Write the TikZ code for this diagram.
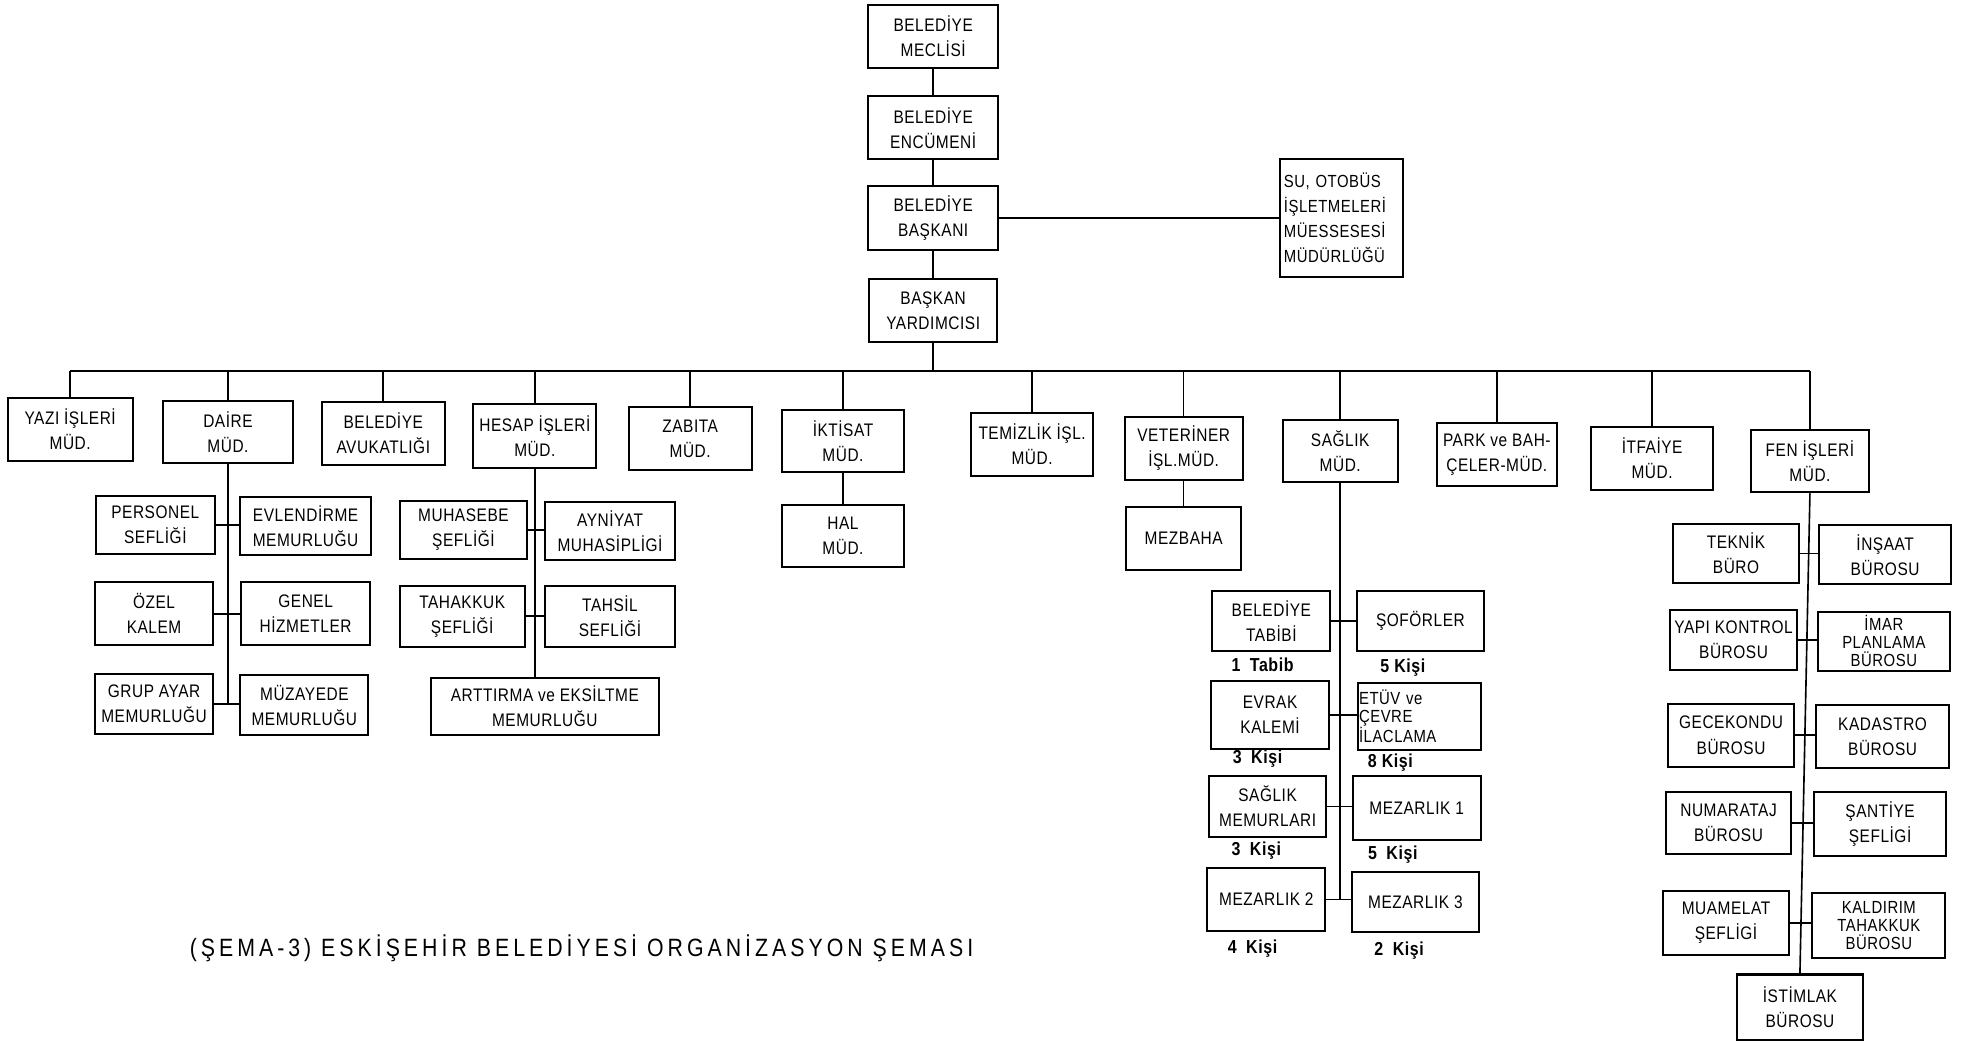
\documentclass[tikz,border=0pt]{standalone}
\usepackage{fontspec}
\setmainfont{Liberation Sans}[FakeStretch=0.85,LetterSpace=3.0]
\usepackage{tikz}

\begin{document}
\begin{tikzpicture}[x=1pt,y=-1pt,
  kutu/.style={draw,line width=1.6pt,align=center,inner sep=1pt,
    minimum width=98pt,minimum height=50pt,
    font=\fontsize{14.5}{20}\selectfont},
  ucsatir/.style={font=\fontsize{14}{14.5}\selectfont},
  kisi/.style={font=\bfseries\fontsize{15}{17}\selectfont},
  hat/.style={line width=1.3pt}]
\useasboundingbox (0,0) rectangle (1568,835);

% ust kademe
\node[kutu,minimum width=104pt] (meclis) at (745,29) {BELEDİYE\\MECLİSİ};
\node[kutu,minimum width=104pt] (encumen) at (745,102) {BELEDİYE\\ENCÜMENİ};
\node[kutu,minimum width=104pt,minimum height=51pt] (baskan) at (745,174) {BELEDİYE\\BAŞKANI};
\node[kutu,minimum width=102pt] (yardimci) at (745,248) {BAŞKAN\\YARDIMCISI};
\node[kutu,text width=92pt,align=left,minimum height=94pt,font=\fontsize{14}{20}\selectfont] (su) at (1071,174) {SU, OTOBÜS\\İŞLETMELERİ\\MÜESSESESİ\\MÜDÜRLÜĞÜ};
\draw[hat] (meclis.south) -- (encumen.north);
\draw[hat] (encumen.south) -- (baskan.north);
\draw[hat] (baskan.south) -- (yardimci.north);
\draw[hat] (baskan.east) -- (su.west);

% mudurlukler
\node[kutu,minimum width=100pt] (yazi) at (56,343) {YAZI İŞLERİ\\MÜD.};
\node[kutu,minimum width=104pt,minimum height=49pt] (daire) at (182,345) {DAİRE\\MÜD.};
\node[kutu] (avukat) at (306,346) {BELEDİYE\\AVUKATLIĞI};
\node[kutu,minimum height=51pt] (hesap) at (427,348) {HESAP İŞLERİ\\MÜD.};
\node[kutu] (zabita) at (551,350) {ZABITA\\MÜD.};
\node[kutu] (iktisat) at (673,352) {İKTİSAT\\MÜD.};
\node[kutu] (temizlik) at (824,355) {TEMİZLİK İŞL.\\MÜD.};
\node[kutu,minimum width=94pt] (veteriner) at (945,358) {VETERİNER\\İŞL.MÜD.};
\node[kutu,minimum width=92pt] (saglik) at (1070,360) {SAĞLIK\\MÜD.};
\node[kutu,minimum width=96pt] (park) at (1195,363) {PARK ve BAH-\\ÇELER-MÜD.};
\node[kutu,minimum width=97pt] (itfaiye) at (1319,366) {İTFAİYE\\MÜD.};
\node[kutu,minimum width=94pt] (fen) at (1445,368) {FEN İŞLERİ\\MÜD.};

\coordinate (bus) at (0,296);
\draw[hat] (yardimci.south) -- (yardimci.south |- bus);
\draw[hat] (yazi.north |- bus) -- (fen.north |- bus);
\foreach \b in {yazi,daire,avukat,hesap,zabita,iktisat,temizlik,veteriner,saglik,park,itfaiye,fen}
  \draw[hat] (\b.north) -- (\b.north |- bus);

% daire mud.
\node[kutu,minimum width=95pt,minimum height=46pt] (personel) at (124,419) {PERSONEL\\SEFLİĞİ};
\node[kutu,minimum width=104pt,minimum height=46pt] (evlendirme) at (244,420) {EVLENDİRME\\MEMURLUĞU};
\node[kutu,minimum width=94pt] (ozel) at (123,490) {ÖZEL\\KALEM};
\node[kutu,minimum width=103pt] (genel) at (244,490) {GENEL\\HİZMETLER};
\node[kutu,minimum width=94pt,minimum height=48pt] (grup) at (123,562) {GRUP AYAR\\MEMURLUĞU};
\node[kutu,minimum width=102pt,minimum height=48pt] (muzayede) at (243,563) {MÜZAYEDE\\MEMURLUĞU};
\draw[hat] (daire.south) -- (daire.south |- grup.east);
\draw[hat] (personel.east) -- (personel.east -| evlendirme.west);
\draw[hat] (ozel.east) -- (ozel.east -| genel.west);
\draw[hat] (grup.east) -- (grup.east -| muzayede.west);

% hesap isleri
\node[kutu,minimum width=101pt,minimum height=46pt] (muhasebe) at (370,423) {MUHASEBE\\ŞEFLİĞİ};
\node[kutu,minimum width=104pt,minimum height=46pt] (ayniyat) at (487,424) {AYNİYAT\\MUHASİPLİGİ};
\node[kutu,minimum width=100pt,minimum height=49pt] (tahakkuk) at (369,492) {TAHAKKUK\\ŞEFLİĞİ};
\node[kutu,minimum width=103pt,minimum height=49pt] (tahsil) at (487,492) {TAHSİL\\SEFLİĞİ};
\node[kutu,minimum width=182pt,minimum height=46pt] (arttirma) at (435,564) {ARTTIRMA ve EKSİLTME\\MEMURLUĞU};
\draw[hat] (hesap.south) -- (hesap.south |- arttirma.north);
\draw[hat] (muhasebe.east) -- (muhasebe.east -| ayniyat.west);
\draw[hat] (tahakkuk.east) -- (tahakkuk.east -| tahsil.west);

% iktisat, veteriner
\node[kutu,minimum width=97pt] (hal) at (673,428) {HAL\\MÜD.};
\node[kutu,minimum width=92pt] (mezbaha) at (945,430) {MEZBAHA};
\draw[hat] (iktisat.south) -- (hal.north);
\draw[hat] (veteriner.south) -- (mezbaha.north);

% saglik mud.
\node[kutu,minimum width=94pt,minimum height=48pt] (tabip) at (1015,496) {BELEDİYE\\TABİBİ};
\node[kutu,minimum width=101pt,minimum height=48pt] (sofor) at (1134,496) {ŞOFÖRLER};
\node[kutu,minimum width=94pt,minimum height=54pt] (evrak) at (1014,571) {EVRAK\\KALEMİ};
\node[kutu,ucsatir,text width=96pt,align=left,minimum height=54pt] (etuv) at (1133,572) {ETÜV ve\\ÇEVRE\\İLACLAMA};
\node[kutu,minimum width=94pt,minimum height=49pt] (sagmem) at (1012,644) {SAĞLIK\\MEMURLARI};
\node[kutu,minimum width=102pt,minimum height=51pt] (mez1) at (1131,645) {MEZARLIK 1};
\node[kutu,minimum width=94pt] (mez2) at (1011,718) {MEZARLIK 2};
\node[kutu,minimum width=102pt,minimum height=48pt] (mez3) at (1130,720) {MEZARLIK 3};
\draw[hat] (saglik.south) -- (saglik.south |- mez2.east);
\draw[hat] (tabip.east) -- (tabip.east -| sofor.west);
\draw[hat] (evrak.east) -- (evrak.east -| etuv.west);
\draw[hat] (sagmem.east) -- (sagmem.east -| mez1.west);
\draw[hat] (mez2.east) -- (mez2.east -| mez3.west);
\node[kisi] (tabipsay) at (1008,531) {1\enspace Tabib};
\node[kisi] (sofsay) at (1120,533) {5 Kişi};
\node[kisi] (evraksay) at (1004,606) {3\enspace Kişi};
\node[kisi] (etuvsay) at (1110,609) {8 Kişi};
\node[kisi] (memsay) at (1003,679) {3\enspace Kişi};
\node[kisi] (mez1say) at (1112,682) {5\enspace Kişi};
\node[kisi] (mez2say) at (1000,757) {4\enspace Kişi};
\node[kisi] (mez3say) at (1117,759) {2\enspace Kişi};

% fen isleri
\node[kutu,minimum width=101pt,minimum height=47pt] (teknik) at (1386,442) {TEKNİK\\BÜRO};
\node[kutu,minimum width=105pt,minimum height=47pt] (insaat) at (1505,443) {İNŞAAT\\BÜROSU};
\node[kutu,minimum width=101pt,minimum height=48pt] (yapi) at (1384,511) {YAPI KONTROL\\BÜROSU};
\node[kutu,ucsatir,minimum width=105pt,minimum height=47pt] (imar) at (1504,512) {İMAR\\PLANLAMA\\BÜROSU};
\node[kutu,minimum width=100pt] (gecekondu) at (1382,587) {GECEKONDU\\BÜROSU};
\node[kutu,minimum width=106pt] (kadastro) at (1503,588) {KADASTRO\\BÜROSU};
\node[kutu,minimum width=100pt] (numarataj) at (1380,657) {NUMARATAJ\\BÜROSU};
\node[kutu,minimum width=106pt,minimum height=51pt] (santiye) at (1501,658) {ŞANTİYE\\ŞEFLİGİ};
\node[kutu,minimum width=101pt,minimum height=51pt] (muamelat) at (1378,737) {MUAMELAT\\ŞEFLİGİ};
\node[kutu,ucsatir,minimum width=106pt,minimum height=52pt] (kaldirim) at (1500,739) {KALDIRIM\\TAHAKKUK\\BÜROSU};
\node[kutu,minimum width=100pt,minimum height=52pt] (istimlak) at (1437,804) {İSTİMLAK\\BÜROSU};
\draw[hat] (fen.south) -- (istimlak.north);
\draw[hat] (teknik.east) -- (teknik.east -| insaat.west);
\draw[hat] (yapi.east) -- (yapi.east -| imar.west);
\draw[hat] (gecekondu.east) -- (gecekondu.east -| kadastro.west);
\draw[hat] (numarataj.east) -- (numarataj.east -| santiye.west);
\draw[hat] (muamelat.east) -- (muamelat.east -| kaldirim.west);

% baslik
\node[anchor=west,font=\fontsize{20}{22}\selectfont\addfontfeature{LetterSpace=16}] (baslik) at (148,757) {(ŞEMA-3) ESKİŞEHİR BELEDİYESİ ORGANİZASYON ŞEMASI};
\end{tikzpicture}
\end{document}
